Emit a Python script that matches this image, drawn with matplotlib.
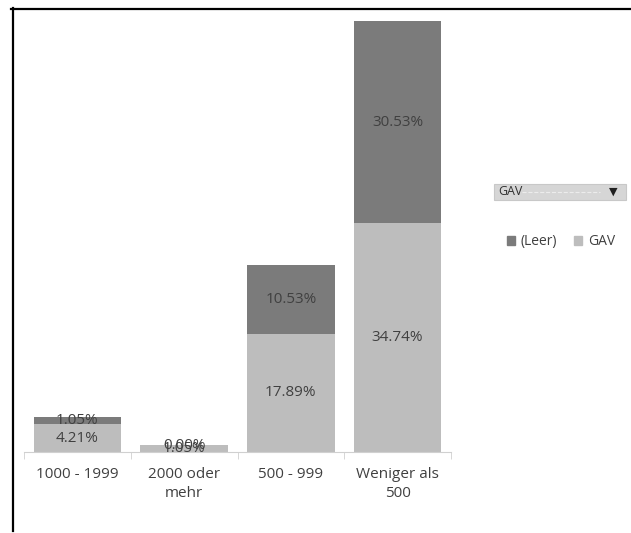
import matplotlib.pyplot as plt
from matplotlib.lines import Line2D
from matplotlib.patches import Rectangle, Patch

categories = ['1000 - 1999', '2000 oder\nmehr', '500 - 999', 'Weniger als\n500']
gav = [4.21, 1.05, 17.89, 34.74]
leer = [1.05, 0.00, 10.53, 30.53]
series_names = ['(Leer)', 'GAV']

dark = '#7b7b7b'
light = '#bdbdbd'
text_col = '#404040'

plt.rcParams['font.family'] = ['Open Sans', 'DejaVu Sans']

fig = plt.figure(figsize=(6.31, 5.33), dpi=100)
W, H = 631, 533
ax = fig.add_axes([24 / W, (H - 452) / H, 427 / W, 442 / H])

x = range(len(categories))
b1 = ax.bar(x, gav, width=0.82, color=light, label='GAV')
b2 = ax.bar(x, leer, width=0.82, bottom=gav, color=dark, label='(Leer)')

ax.bar_label(b1, labels=[f'{v:.2f}%' for v in gav], label_type='center',
             color=text_col, fontsize=11)
ax.bar_label(b2, labels=[f'{v:.2f}%' for v in leer], label_type='center',
             color=text_col, fontsize=11)

ax.set_xlim(-0.5, len(categories) - 0.5)
ax.set_ylim(0, 67)
ax.set_xticks(list(x))
ax.set_xticklabels(categories, color=text_col, fontsize=11, linespacing=1.3)
ax.set_xticks([i - 0.5 for i in range(len(categories) + 1)], minor=True)
ax.tick_params(axis='x', which='major', length=0, pad=11)
ax.tick_params(axis='x', which='minor', length=5, color='#d0d0d0')
ax.set_yticks([])
for s in ['top', 'right', 'left']:
    ax.spines[s].set_visible(False)
ax.spines['bottom'].set_color('#d0d0d0')

# frame lines of the screenshot
fig.add_artist(Line2D([12.5 / W, 12.5 / W], [1 - 8 / H, 1 - 531 / H], color='black', lw=1.6))
fig.add_artist(Line2D([11 / W, 1.0], [1 - 8.5 / H, 1 - 8.5 / H], color='black', lw=1.6))

# pivot filter button
fig.add_artist(Rectangle((494 / W, 1 - 200 / H), 132 / W, 16 / H, facecolor='#d6d6d6',
                         edgecolor='#c8c8c8', lw=0.8))
fig.add_artist(Line2D([522 / W, 600 / W], [1 - 192 / H, 1 - 192 / H], color='#ececec',
                      lw=0.8, ls='--'))
fig.text(498 / W, 1 - 192 / H, 'GAV', fontsize=9, color='#303030', va='center')
fig.text(613 / W, 1 - 192 / H, '▼', fontsize=8, color='#202020', va='center', ha='center',
         family='DejaVu Sans')

handles = [Patch(color=dark), Patch(color=light)]
fig.legend(handles, series_names, loc='center', bbox_to_anchor=(561 / W, 1 - 242 / H),
           ncol=2, frameon=False, fontsize=10, handlelength=0.6, handleheight=0.6,
           handletextpad=0.4, columnspacing=1.2, labelcolor=text_col)

fig.savefig('out.png', dpi=100)
